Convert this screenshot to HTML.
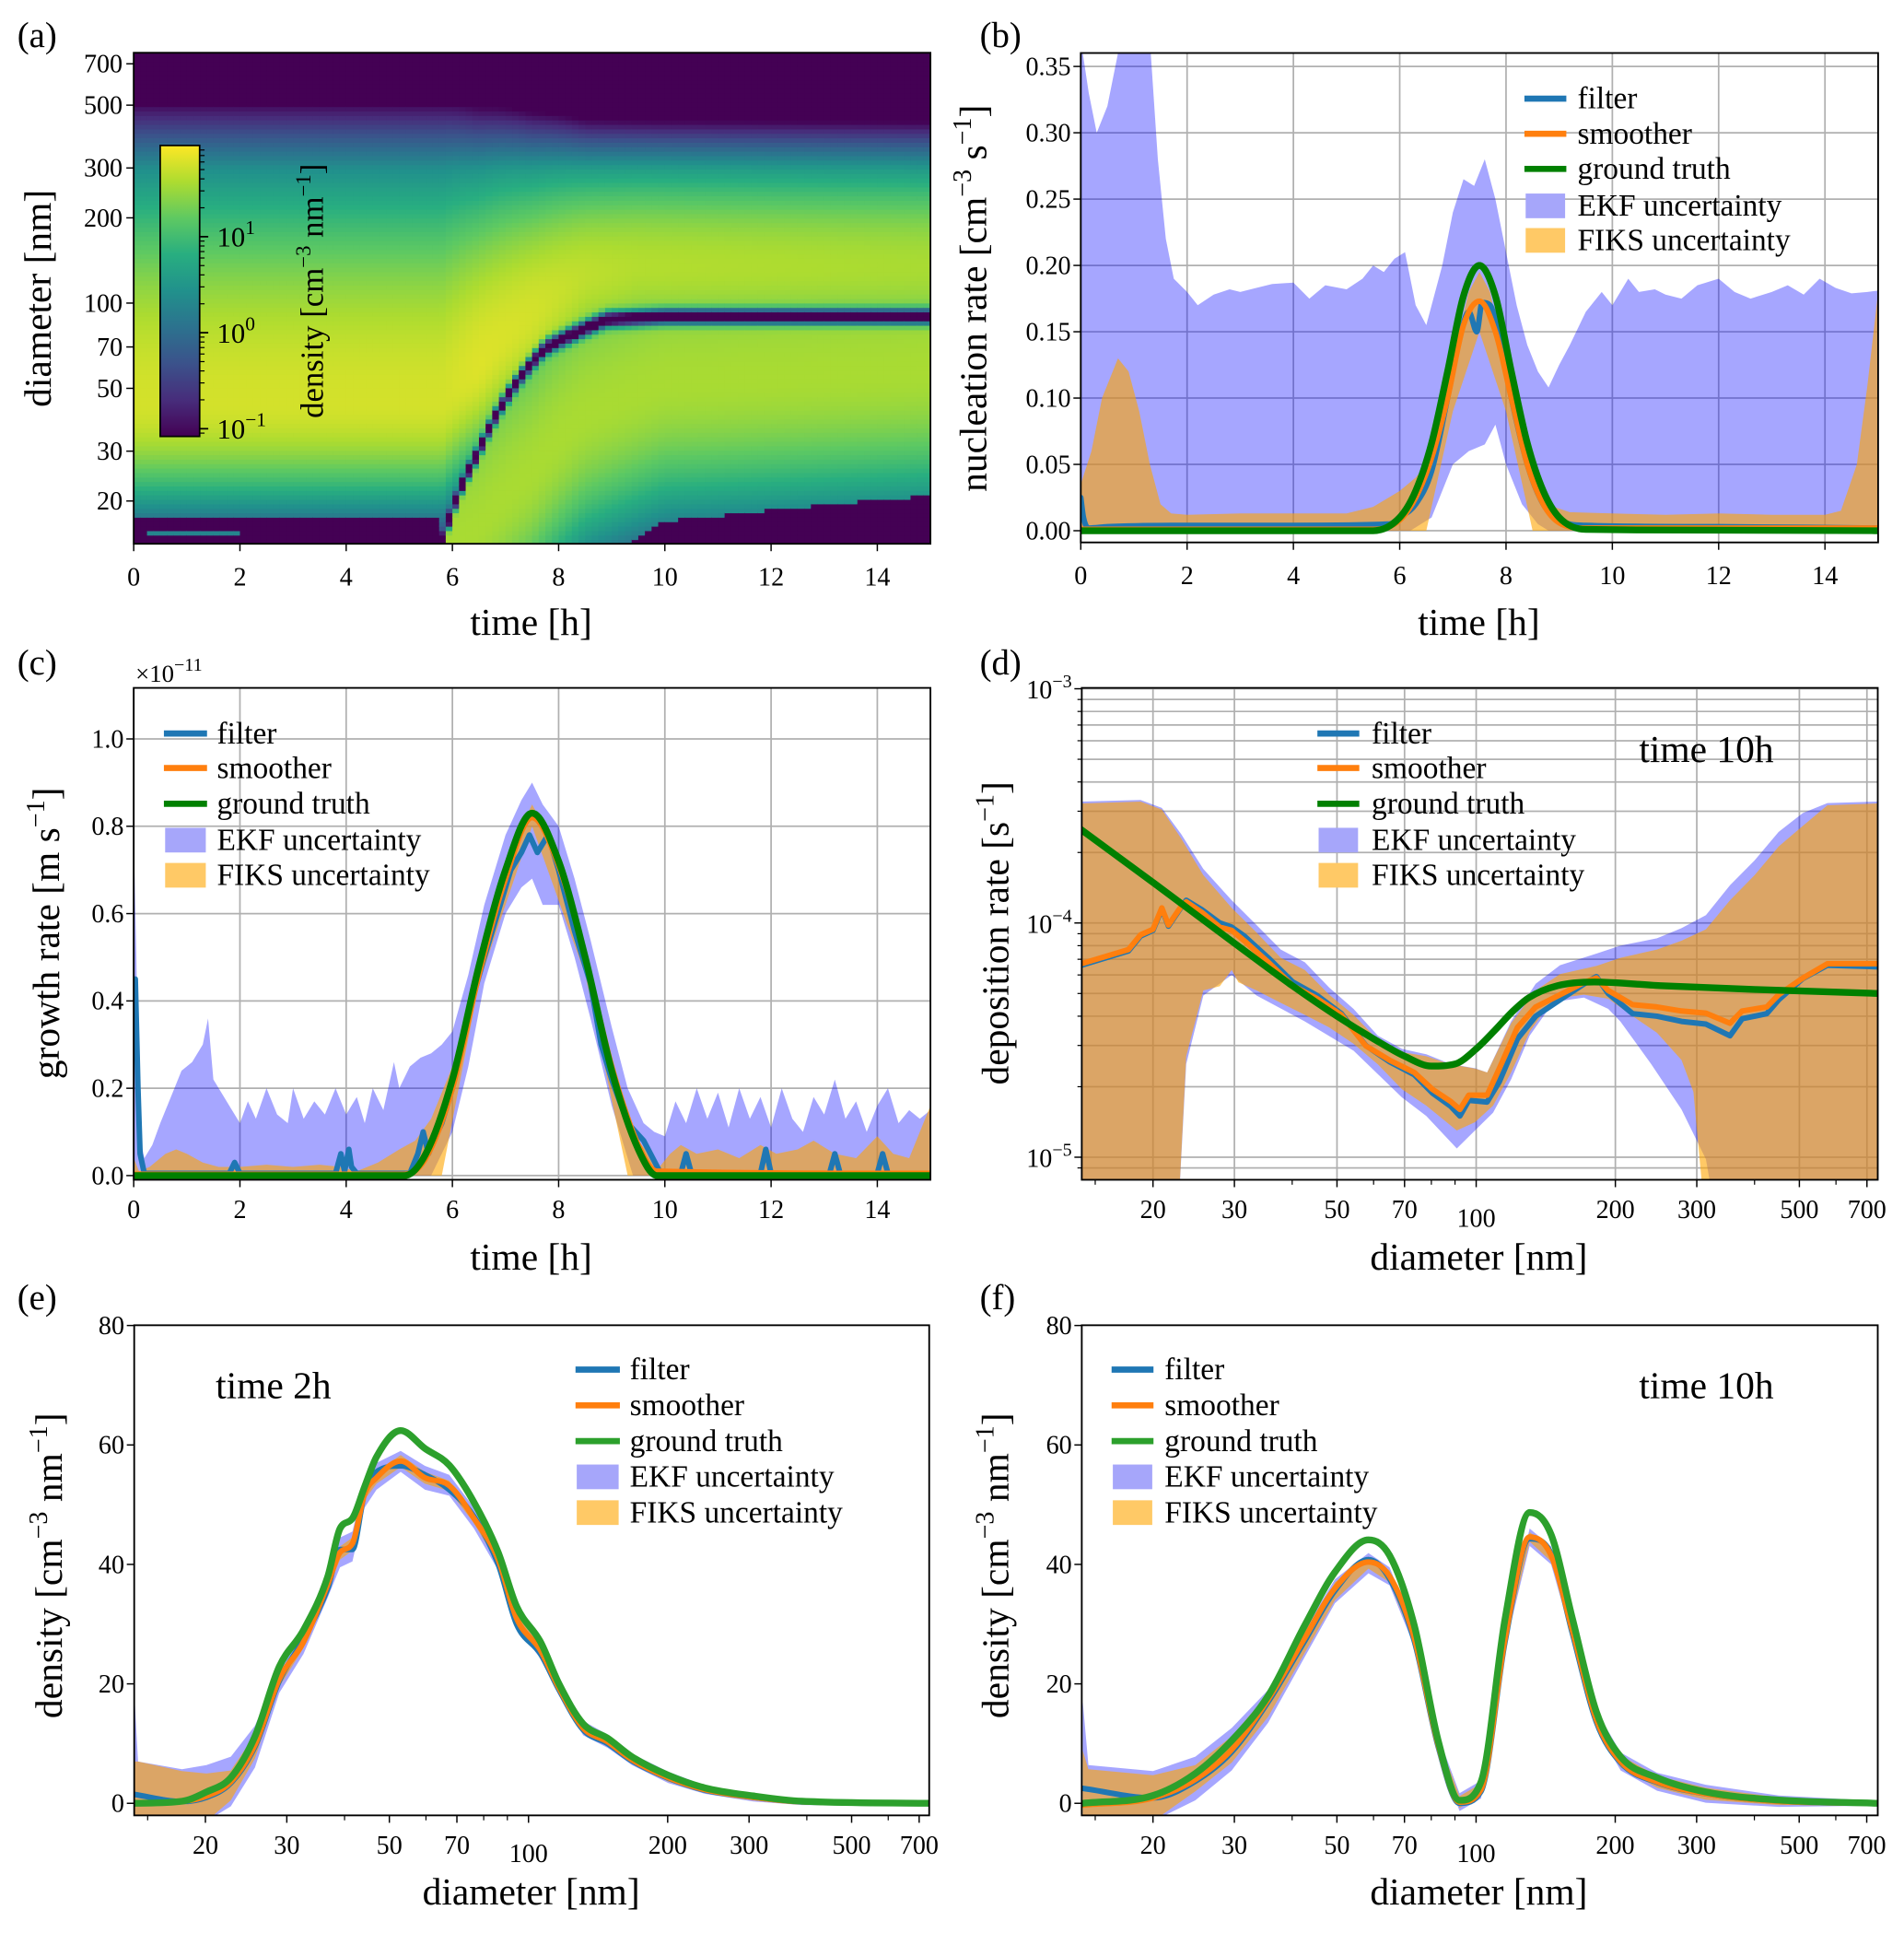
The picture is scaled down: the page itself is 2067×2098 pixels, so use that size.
<!DOCTYPE html>
<html><head><meta charset="utf-8"><title>Aerosol filter/smoother figure</title>
<style>
html,body{margin:0;padding:0;background:#fff;}
svg{display:block;}
text{font-family:"Liberation Serif",serif;fill:#000;}
</style></head>
<body>
<svg id="fig" xmlns="http://www.w3.org/2000/svg" width="2067" height="2098" viewBox="0 0 1545 1568" preserveAspectRatio="none">
<defs>
<clipPath id="clip-a"><rect x="108.5" y="42.8" width="646.5" height="398.3"/></clipPath>
<clipPath id="clip-b"><rect x="877" y="43" width="647" height="397"/></clipPath>
<clipPath id="clip-c"><rect x="108.5" y="558" width="646.5" height="399"/></clipPath>
<clipPath id="clip-d"><rect x="877.8" y="558" width="645.9" height="399"/></clipPath>
<clipPath id="clip-e"><rect x="108.9" y="1075" width="645.1" height="397.6"/></clipPath>
<clipPath id="clip-f"><rect x="877.8" y="1075" width="645.9" height="397.6"/></clipPath>
<linearGradient id="viridis" x1="0" y1="1" x2="0" y2="0">
<stop offset="0" stop-color="#440154"/><stop offset="0.125" stop-color="#472d7b"/><stop offset="0.25" stop-color="#3b528b"/><stop offset="0.375" stop-color="#2c728e"/><stop offset="0.5" stop-color="#21918c"/><stop offset="0.625" stop-color="#28ae80"/><stop offset="0.75" stop-color="#5ec962"/><stop offset="0.875" stop-color="#addc30"/><stop offset="1" stop-color="#fde725"/>
</linearGradient>
</defs>
<rect x="0" y="0" width="1545" height="1568" fill="#fff"/>
<g id="layer-a"></g>
<g id="layer-b"></g>
<g id="layer-c"></g>
<g id="layer-d"></g>
<g id="layer-e"></g>
<g id="layer-f"></g>

<text x="14" y="38" font-size="29">(a)</text>
<text x="795" y="38" font-size="29">(b)</text>
<text x="14" y="547" font-size="29">(c)</text>
<text x="795" y="547" font-size="29">(d)</text>
<text x="14" y="1062" font-size="29">(e)</text>
<text x="795" y="1062" font-size="29">(f)</text>

<text x="431" y="515" font-size="31" text-anchor="middle">time [h]</text>
<text x="1200" y="515" font-size="31" text-anchor="middle">time [h]</text>
<text x="431" y="1030" font-size="31" text-anchor="middle">time [h]</text>
<text x="1200" y="1030" font-size="31" text-anchor="middle">diameter [nm]</text>
<text x="431" y="1545" font-size="31" text-anchor="middle">diameter [nm]</text>
<text x="1200" y="1545" font-size="31" text-anchor="middle">diameter [nm]</text>

<text transform="translate(41,242) rotate(-90)" font-size="31" text-anchor="middle">diameter [nm]</text>
<text transform="translate(800,242) rotate(-90)" font-size="31" text-anchor="middle">nucleation rate [cm<tspan dy="-12" font-size="21">−3</tspan><tspan dy="12"> s</tspan><tspan dy="-12" font-size="21">−1</tspan><tspan dy="12">]</tspan></text>
<text transform="translate(48,757) rotate(-90)" font-size="31" text-anchor="middle">growth rate [m s<tspan dy="-12" font-size="21">−1</tspan><tspan dy="12">]</tspan></text>
<text transform="translate(818,757) rotate(-90)" font-size="31" text-anchor="middle">deposition rate [s<tspan dy="-12" font-size="21">−1</tspan><tspan dy="12">]</tspan></text>
<text transform="translate(50,1270) rotate(-90)" font-size="31" text-anchor="middle">density [cm<tspan dy="-12" font-size="21">−3</tspan><tspan dy="12"> nm</tspan><tspan dy="-12" font-size="21">−1</tspan><tspan dy="12">]</tspan></text>
<text transform="translate(818,1270) rotate(-90)" font-size="31" text-anchor="middle">density [cm<tspan dy="-12" font-size="21">−3</tspan><tspan dy="12"> nm</tspan><tspan dy="-12" font-size="21">−1</tspan><tspan dy="12">]</tspan></text>

<text x="110" y="553" font-size="20">×10<tspan dy="-9" font-size="15">−11</tspan></text>
<text x="1330" y="618" font-size="31">time 10h</text>
<text x="175" y="1134" font-size="31">time 2h</text>
<text x="1330" y="1134" font-size="31">time 10h</text>
</svg>

<script>
// ---------------- DATA ----------------
const gapTimes=[5.8,6.5,7.75,8.9,10,15];
const gapDiams=[14,30,70,88,90,90];
const oldTimes=[0,5.8,6.5,7.5,8.5,9.5,15];
const oldCenters=[45,45,60,90,125,135,135];
const oldSigUp=[0.33,0.33,0.28,0.22,0.17,0.16,0.16];
const oldAmp=[1.75,1.75,1.8,1.75,1.65,1.6,1.55];
const newTimes=[5.8,6.5,7.5,8.5,10,15];
const newCenters=[13,16,25,40,52,58];
const bottomTimes=[9.3,10,15];
const bottomDiams=[14,17,21];
const aDiamTicks=[20,30,50,70,100,200,300,500,700];
const cbarTicks=[1,0,-1];
const cbarTickLabels=["1","0","−1"];

const bEkfHiT=[0,0.15,0.3,0.5,0.7,0.9,1.1,1.3,1.45,1.6,1.75,2.0,2.2,2.5,2.8,3.0,3.3,3.6,4.0,4.3,4.6,5.0,5.3,5.5,5.7,5.9,6.1,6.3,6.5,6.8,7.0,7.2,7.4,7.6,7.8,8.0,8.2,8.4,8.6,8.8,9.0,9.2,9.5,9.8,10.0,10.3,10.5,10.8,11.0,11.3,11.6,12.0,12.3,12.6,13.0,13.3,13.6,13.9,14.2,14.5,14.8,15];
const bEkfHi=[0.37,0.33,0.30,0.32,0.36,0.37,0.37,0.37,0.28,0.22,0.19,0.18,0.17,0.178,0.182,0.18,0.183,0.186,0.187,0.175,0.185,0.182,0.19,0.2,0.195,0.205,0.21,0.17,0.155,0.2,0.24,0.265,0.26,0.28,0.25,0.21,0.17,0.14,0.12,0.108,0.125,0.14,0.165,0.18,0.17,0.19,0.18,0.182,0.178,0.175,0.185,0.19,0.18,0.175,0.18,0.185,0.178,0.19,0.183,0.179,0.18,0.181];
const bEkfLoT=[0,6.2,6.6,7.0,7.3,7.6,7.8,8.0,8.3,8.6,8.8,15];
const bEkfLo=[0,0,0.01,0.05,0.06,0.065,0.08,0.05,0.02,0.005,0,0];
const bFiksHiT=[0,0.2,0.4,0.7,0.9,1.1,1.3,1.5,1.7,2,3,4,5,5.5,6,6.3,6.6,7,7.3,7.5,7.7,8,8.3,8.6,8.9,9.2,10,11,12,13,14,14.3,14.6,14.8,15];
const bFiksHi=[0.035,0.06,0.10,0.13,0.12,0.09,0.05,0.02,0.013,0.012,0.013,0.013,0.013,0.018,0.03,0.04,0.055,0.13,0.18,0.195,0.18,0.12,0.06,0.03,0.018,0.014,0.013,0.012,0.013,0.012,0.012,0.015,0.05,0.11,0.18];
const bFiksLoT=[0,6.5,7,7.5,8,8.5,15];
const bFiksLo=[0,0,0.09,0.15,0.09,0,0];
const bTruthT=[0,5.5,6,6.3,6.6,6.9,7.2,7.5,7.8,8.1,8.4,8.7,9,9.5,15];
const bTruth=[0,0,0.01,0.03,0.066,0.12,0.177,0.2,0.177,0.12,0.066,0.03,0.01,0.001,0];
const bSmooth=[0.001,0.001,0.008,0.025,0.055,0.1,0.155,0.173,0.15,0.1,0.05,0.02,0.006,0.002,0.002];
const bFilterT=[0,0.05,0.15,0.5,2,4,5.8,6.0,6.3,6.6,6.9,7.1,7.3,7.45,7.55,7.7,7.9,8.1,8.4,8.7,9,9.5,12,15];
const bFilter=[0.025,0.01,0.002,0.003,0.004,0.004,0.005,0.01,0.02,0.045,0.1,0.14,0.165,0.15,0.172,0.17,0.14,0.1,0.05,0.02,0.008,0.004,0.003,0.002];
const bYTicks=[0,0.05,0.1,0.15,0.2,0.25,0.3,0.35];
const bYLabels=["0.00","0.05","0.10","0.15","0.20","0.25","0.30","0.35"];

const cEkfHiT=[0,0.05,0.1,0.2,0.35,0.5,0.7,0.9,1.1,1.3,1.4,1.5,1.65,1.8,2.0,2.15,2.3,2.5,2.7,2.9,3.0,3.2,3.4,3.6,3.8,4.0,4.2,4.35,4.5,4.7,4.9,5.0,5.2,5.4,5.6,5.8,6.0,6.3,6.6,7.0,7.3,7.5,7.7,8.0,8.3,8.6,9.0,9.3,9.6,9.8,10.0,10.2,10.4,10.6,10.8,11.0,11.2,11.4,11.6,11.8,12.0,12.2,12.4,12.6,12.8,13.0,13.2,13.4,13.6,13.8,14.0,14.2,14.4,14.6,14.8,15];
const cEkfHi=[0.78,0.5,0.1,0.04,0.07,0.12,0.18,0.24,0.26,0.3,0.36,0.22,0.19,0.16,0.12,0.17,0.13,0.2,0.14,0.12,0.2,0.13,0.17,0.14,0.2,0.14,0.18,0.12,0.2,0.15,0.26,0.2,0.25,0.27,0.28,0.3,0.33,0.46,0.62,0.78,0.86,0.9,0.85,0.8,0.68,0.54,0.34,0.2,0.12,0.1,0.09,0.17,0.12,0.2,0.13,0.19,0.11,0.2,0.13,0.18,0.11,0.2,0.13,0.1,0.18,0.14,0.22,0.13,0.17,0.1,0.16,0.2,0.12,0.15,0.13,0.15];
const cEkfLoT=[0,5.6,6.0,6.3,6.6,7.0,7.3,7.5,7.7,8.0,8.3,8.6,9.0,9.4,15];
const cEkfLo=[0,0,0.1,0.25,0.44,0.6,0.66,0.68,0.62,0.62,0.5,0.36,0.16,0,0];
const cFiksHiT=[0,0.1,0.3,0.6,0.8,1.0,1.3,1.6,2,2.5,3,3.5,3.9,4.2,4.6,5.0,5.3,5.6,6,6.5,7,7.5,8,8.5,9,9.5,9.9,10.1,10.3,10.6,11,11.4,11.8,12.1,12.5,12.8,13.2,13.6,14,14.3,14.6,15];
const cFiksHi=[0.04,0.01,0.02,0.05,0.06,0.05,0.03,0.02,0.02,0.025,0.02,0.025,0.02,0.01,0.03,0.06,0.08,0.13,0.25,0.5,0.72,0.85,0.74,0.52,0.26,0.08,0.02,0.05,0.07,0.05,0.06,0.04,0.07,0.05,0.06,0.08,0.05,0.04,0.09,0.05,0.04,0.16];
const cFiksLoT=[0,5.8,6.5,7.5,8.5,9.3,15];
const cFiksLo=[0,0,0.44,0.8,0.46,0,0];
const cTruthT=[0,5.1,5.5,6,6.5,7,7.5,8,8.5,9,9.5,9.85,15];
const cTruth=[0,0,0.05,0.22,0.48,0.7,0.83,0.72,0.5,0.24,0.06,0,0];
const cSmooth=[0.003,0.003,0.04,0.2,0.46,0.68,0.82,0.71,0.5,0.25,0.07,0.01,0.005];
const cFilterT=[0,0.03,0.08,0.12,0.2,1.8,1.9,2.0,3.8,3.9,3.97,4.05,4.1,4.2,5.2,5.35,5.45,5.55,5.65,5.8,6.0,6.3,6.6,6.9,7.1,7.3,7.45,7.6,7.8,8.0,8.3,8.6,8.8,9.0,9.3,9.6,9.9,10.3,10.4,10.5,11.8,11.9,12.0,13.1,13.2,13.3,14.0,14.1,14.2,15];
const cFilter=[0.3,0.45,0.2,0.05,0.005,0.005,0.03,0.005,0.005,0.05,0.01,0.06,0.02,0.005,0.005,0.05,0.1,0.05,0.08,0.12,0.2,0.37,0.5,0.62,0.7,0.74,0.78,0.74,0.78,0.7,0.56,0.44,0.3,0.22,0.12,0.08,0.01,0.005,0.05,0.005,0.005,0.06,0.005,0.005,0.05,0.005,0.005,0.05,0.005,0.005];
const cYTicks=[0,0.2,0.4,0.6,0.8,1.0];
const cYLabels=["0.0","0.2","0.4","0.6","0.8","1.0"];

const dTruthD=[14,20,30,40,50,60,70,80,90,100,110,120,130,150,180,250,400,740];
const dTruth=[2.5e-4,1.49e-4,8.2e-5,5.4e-5,4.0e-5,3.2e-5,2.7e-5,2.45e-5,2.5e-5,2.9e-5,3.5e-5,4.2e-5,4.8e-5,5.4e-5,5.6e-5,5.4e-5,5.2e-5,5.0e-5];
const dLineD=[14.0,17.7,18.8,20.0,20.9,21.6,22.9,23.6,25.5,27.9,29.6,31.5,35.5,40.1,45.3,51.1,57.7,65.1,73.5,80.4,88.1,92.2,96.4,105.6,112.2,122.8,134.5,151.8,171.3,182,193,218,246,278,314,354,376,425,451,509,575,739];
const dSmooth=[6.7e-5,7.7e-5,8.9e-5,9.4e-5,1.16e-4,9.8e-5,1.16e-4,1.23e-4,1.11e-4,9.6e-5,9.3e-5,8.4e-5,6.8e-5,5.4e-5,4.75e-5,4.05e-5,2.99e-5,2.59e-5,2.30e-5,1.95e-5,1.73e-5,1.6e-5,1.84e-5,1.84e-5,2.39e-5,3.58e-5,4.38e-5,4.94e-5,5.58e-5,5.82e-5,5.15e-5,4.48e-5,4.38e-5,4.21e-5,4.12e-5,3.73e-5,4.21e-5,4.38e-5,4.94e-5,5.82e-5,6.7e-5,6.7e-5];
const dFilter=[6.6e-5,7.6e-5,8.8e-5,9.3e-5,1.15e-4,9.7e-5,1.15e-4,1.25e-4,1.14e-4,1.0e-4,9.6e-5,8.8e-5,7.1e-5,5.6e-5,4.9e-5,4.1e-5,3.0e-5,2.55e-5,2.25e-5,1.88e-5,1.65e-5,1.5e-5,1.75e-5,1.72e-5,2.1e-5,3.2e-5,4.0e-5,4.7e-5,5.5e-5,5.9e-5,5.0e-5,4.1e-5,4.0e-5,3.8e-5,3.7e-5,3.3e-5,3.9e-5,4.1e-5,4.7e-5,5.8e-5,6.6e-5,6.5e-5];
const dUpperD=[14,18.8,20.9,23,25.7,29.6,33.5,37.8,42.6,48.1,54.3,61.3,69.1,78,88.1,99.4,105.6,119,134.5,151.8,182,205,246,278,314,354,400,451,509,575,739];
const dFiksHi=[3.24e-4,3.3e-4,3.05e-4,2.3e-4,1.6e-4,1.16e-4,9.1e-5,7.1e-5,6.3e-5,4.94e-5,4.05e-5,3.17e-5,2.81e-5,2.7e-5,2.49e-5,2.39e-5,2.3e-5,3.73e-5,5.15e-5,6.05e-5,6.56e-5,7.1e-5,7.7e-5,8.4e-5,9.4e-5,1.25e-4,1.6e-4,2.12e-4,2.6e-4,3.18e-4,3.24e-4];
const dEkfHi=[3.3e-4,3.35e-4,3.1e-4,2.4e-4,1.7e-4,1.25e-4,9.8e-5,7.7e-5,6.8e-5,5.3e-5,4.3e-5,3.3e-5,2.9e-5,2.75e-5,2.5e-5,2.4e-5,2.3e-5,3.8e-5,5.5e-5,6.6e-5,7.4e-5,8.0e-5,8.6e-5,9.5e-5,1.08e-4,1.45e-4,1.85e-4,2.45e-4,2.95e-4,3.25e-4,3.3e-4];
const dFiksLoD=[14,22.6,23.6,25.7,27.9,29.6,30.6,33.5,37.8,42.6,48.1,54.3,61.3,69.1,78,90.8,99.4,108.8,119,130.5,147,171,193,218,246,278,295,314,739];
const dFiksLo=[5e-6,5e-6,2.7e-5,5.15e-5,5.37e-5,6.3e-5,5.58e-5,5.15e-5,4.56e-5,4.05e-5,3.58e-5,3.05e-5,2.49e-5,1.95e-5,1.66e-5,1.3e-5,1.41e-5,1.66e-5,2.3e-5,3.43e-5,4.75e-5,4.94e-5,4.75e-5,4.0e-5,3.4e-5,2.6e-5,1.9e-5,5e-6,5e-6];
const dEkfLoD=[14,22.6,23.6,25.7,29.6,33.5,42.6,54.3,69.1,78,90.8,99.4,108.8,119,130.5,147,171,193,205,239,278,314,333,739];
const dEkfLo=[5e-6,5e-6,2.5e-5,4.9e-5,6.0e-5,4.9e-5,3.8e-5,2.85e-5,1.8e-5,1.5e-5,1.09e-5,1.3e-5,1.55e-5,2.15e-5,3.3e-5,4.6e-5,4.8e-5,4.3e-5,3.8e-5,2.5e-5,1.6e-5,9.8e-6,5e-6,5e-6];
const dYTicks=[-3,-4,-5];
const dYLabels=["−3","−4","−5"];
const diamTicks=[20,30,50,70,100,200,300,500,700];
const diamMinor=[15,40,60,80,90,400,600];

const eD=[14.0,17.8,20.1,22.7,25.6,28.9,32.6,36.8,39.1,41.6,44.2,46.9,52.9,59.7,67.4,76.2,86.0,94.2,106.2,116.4,131.3,148.3,167.4,200.6,240.4,306.4,390.6,738];
const eTruth=[0,0.35,1.9,4.3,11.2,22.9,29,38,46,47.7,53,58,62.4,59.4,56.6,50.4,42,33,27,20,13.3,10.9,7.8,4.7,2.6,1.24,0.35,0];
const eSmooth=[0,0.3,1.2,3.6,9.8,20.8,27,36.7,42,43.5,51.8,54.5,57.3,54.5,53.2,47.7,40.8,31,25.6,19.3,12.6,10.3,7.3,4.3,2.3,1.0,0.25,0];
const eFilter=[1.5,0.3,1.0,3.4,9.5,20.5,27.5,36,42.5,42.5,52,55.5,56.5,55,52.5,48,40,30,25,19,12.3,10,7.1,4.2,2.2,1.0,0.25,0];
const eHiD=[14,14.3,17.8,20.1,22.7,25.6,28.9,32.6,36.8,39.1,41.6,44.2,46.9,52.9,59.7,67.4,76.2,86.0,94.2,106.2,116.4,131.3,148.3,167.4,200.6,240.4,306.4,390.6,738];
const eEkfHi=[20,7,5.7,6.4,7.8,13,22.5,29,38.5,44.5,45.5,54,57,59,56.5,55,49.5,42.5,32.5,27,20.8,13.8,11.5,8.3,5.3,3,1.6,0.8,0.4];
const eEkfLo=[-3,-3,-3,-0.5,6,18.5,25,34.5,39.5,40.5,49.5,52.5,55.5,52.5,51.5,46,39,29.5,24.2,18,11.4,9.3,6.4,3.4,1.6,0.3,-0.3,-0.4];
const eFiksHi=[7,7,5.4,5.0,5.5,11.5,21.8,28,37.5,43,44.5,52.8,55.5,58.3,55.5,54,48.5,41.6,31.8,26.4,20.1,13.4,11.1,8.1,5.1,2.8,1.5,0.6,0.3];
const eFiksLo=[-3,-3,-3,0.5,7.5,19.5,26,35.8,40.8,42.3,50.8,53.5,56.3,53.5,52.3,46.9,40,30.2,24.8,18.6,11.9,9.6,6.6,3.6,1.8,0.5,-0.2,-0.3];

const fD=[14.1,20.0,24.7,29.6,35.5,42.6,49.5,58.5,65.0,73.5,82.8,92.1,102.5,115.6,130.6,145.3,161.5,182.1,205.5,246.4,314,451.6,739];
const fTruth=[0,1.3,5,10.5,18,29.8,38.7,44.1,41.5,29.8,10.5,0.5,3.6,31,48.7,45,31,15.3,7.8,4.3,1.9,0.55,0];
const fSmooth=[-0.3,0.9,4,9,17.4,27.7,36,40.4,38,27.7,9.8,0.2,2.3,27.7,44.6,41.5,29,14,7,3.6,1.6,0.35,0];
const fFilter=[2.5,0.9,3.7,8.6,17,27.2,35.6,40.8,37.6,27.2,9.5,0,2,27.2,44.3,41.8,28.5,13.6,6.8,3.5,1.6,0.35,0];
const fHiD=[14.1,14.5,20.0,24.7,29.6,35.5,42.6,49.5,58.5,65.0,73.5,82.8,92.1,102.5,115.6,130.6,145.3,161.5,182.1,205.5,246.4,314,451.6,739];
const fEkfHi=[17,6.4,5.4,7.8,12.6,19,29.2,37.5,41.9,39.5,29.2,11.3,1.7,3.8,29.2,46,43,30.5,15.5,8.5,5.1,3.1,1.3,0.4];
const fEkfLo=[-3,-3,0.5,5.5,13.5,24.5,33.5,38.5,36.5,26.2,8.3,-1.3,0.8,26.2,43.1,40,27.5,12.5,5.5,2.1,0.1,-0.6,-0.4];
const fFiksHi=[8.8,5.7,4.7,6.4,11.2,18.4,28.6,37,41.3,39,28.7,10.8,1.2,3.3,28.7,45.4,42.5,30,15,8,4.6,2.6,1.0,0.3];
const fFiksLo=[-3,-3,2,6.8,14.5,25.2,34,39.3,37,26.7,8.8,-0.8,1.3,26.7,43.8,40.5,28,13,6,2.6,0.6,-0.3,-0.3];
const densYTicks=[0,20,40,60,80];

const timeTicks=[0,2,4,6,8,10,12,14];
const legendLabels=["filter","smoother","ground truth","EKF uncertainty","FIKS uncertainty"];

// ---------------- RENDERING ----------------
const NS="http://www.w3.org/2000/svg";
const L10=Math.log10;
function mk(tag,parent){const e=document.createElementNS(NS,tag);parent.appendChild(e);return e;}
function interp(xs,ys,x){
  if(x<=xs[0])return ys[0];
  for(let i=1;i<xs.length;i++){if(x<=xs[i]){const f=(x-xs[i-1])/(xs[i]-xs[i-1]);return ys[i-1]+f*(ys[i]-ys[i-1]);}}
  return ys[ys.length-1];
}
function pts(xs,ys,fx,fy){return xs.map((x,i)=>fx(x).toFixed(2)+','+fy(ys[i]).toFixed(2));}
function linePath(xs,ys,fx,fy){return 'M'+pts(xs,ys,fx,fy).join('L');}
function smoothPath(xs,ys,fx,fy){
  const X=xs.map(fx),Y=ys.map(fy),n=X.length;
  const dl=[],m=[];
  for(let i=0;i<n-1;i++)dl.push((Y[i+1]-Y[i])/(X[i+1]-X[i]));
  m[0]=dl[0];m[n-1]=dl[n-2];
  for(let i=1;i<n-1;i++){m[i]=(dl[i-1]*dl[i]<=0)?0:(dl[i-1]+dl[i])/2;}
  for(let i=0;i<n-1;i++){
    if(dl[i]===0){m[i]=0;m[i+1]=0;continue;}
    const a=m[i]/dl[i],b=m[i+1]/dl[i],s=a*a+b*b;
    if(s>9){const t=3/Math.sqrt(s);m[i]=t*a*dl[i];m[i+1]=t*b*dl[i];}
  }
  let d='M'+X[0].toFixed(2)+','+Y[0].toFixed(2);
  for(let i=0;i<n-1;i++){
    const h=(X[i+1]-X[i])/3;
    d+='C'+(X[i]+h).toFixed(2)+','+(Y[i]+m[i]*h).toFixed(2)+' '+(X[i+1]-h).toFixed(2)+','+(Y[i+1]-m[i+1]*h).toFixed(2)+' '+X[i+1].toFixed(2)+','+Y[i+1].toFixed(2);
  }
  return d;
}
function bandPath(xh,yh,xl,yl,fx,fy){
  const a=pts(xh,yh,fx,fy);const b=pts(xl,yl,fx,fy).reverse();
  return 'M'+a.join('L')+'L'+b.join('L')+'Z';
}
const C={filter:'#1f77b4',smooth:'#ff7f0e',truth:'#008000',truth2:'#2ca02c',ekf:'rgba(0,0,255,0.35)',fiks:'rgba(255,165,0,0.6)'};

function addLine(g,d,color,w,name){
  const p=mk('path',g);p.setAttribute('d',d);p.setAttribute('fill','none');p.setAttribute('stroke',color);
  p.setAttribute('stroke-width',w);p.setAttribute('stroke-linejoin','round');p.setAttribute('stroke-linecap','round');
  
  
  return p;
}
function addBand(g,d,color,name){
  const p=mk('path',g);p.setAttribute('d',d);p.setAttribute('fill',color);p.setAttribute('stroke','none');
  
  
  return p;
}
function frame(g,x0,y0,x1,y1,name){
  const r=mk('rect',g);r.setAttribute('x',x0);r.setAttribute('y',y0);r.setAttribute('width',x1-x0);r.setAttribute('height',y1-y0);
  r.setAttribute('fill','none');r.setAttribute('stroke','#000');r.setAttribute('stroke-width','1.4');
  
  
}
function tick(g,x1,y1,x2,y2,w,name){
  const l=mk('line',g);l.setAttribute('x1',x1);l.setAttribute('y1',y1);l.setAttribute('x2',x2);l.setAttribute('y2',y2);
  l.setAttribute('stroke','#000');l.setAttribute('stroke-width',w||1.1);
  
  
}
function grid(g,x1,y1,x2,y2,name){
  const l=mk('line',g);l.setAttribute('x1',x1);l.setAttribute('y1',y1);l.setAttribute('x2',x2);l.setAttribute('y2',y2);
  l.setAttribute('stroke','#b0b0b0');l.setAttribute('stroke-width','1.3');
  
  
}
function label(g,x,y,txt,anchor,size,name){
  const t=mk('text',g);t.setAttribute('x',x);t.setAttribute('y',y);t.setAttribute('text-anchor',anchor||'middle');
  t.setAttribute('font-size',size||21);t.textContent=txt;
  
  
  return t;
}
function powLabel(g,x,y,exp,name){
  const t=mk('text',g);t.setAttribute('x',x);t.setAttribute('y',y);t.setAttribute('text-anchor','end');t.setAttribute('font-size',21);
  
  
  t.appendChild(document.createTextNode('10'));
  const s=mk('tspan',t);s.setAttribute('dy','-9');s.setAttribute('font-size','15');s.textContent=exp;
  return t;
}
function legend(g,lx0,lx1,tx,ys,green){
  const cols=[C.filter,C.smooth,green];
  legendLabels.forEach((lab,i)=>{
    const y=ys[i];
    if(i<3){
      const l=mk('line',g);l.setAttribute('x1',lx0);l.setAttribute('x2',lx1);l.setAttribute('y1',y);l.setAttribute('y2',y);
      l.setAttribute('stroke',cols[i]);l.setAttribute('stroke-width','5');
      
      
    }else{
      const r=mk('rect',g);r.setAttribute('x',lx0+1);r.setAttribute('y',y-10);r.setAttribute('width',lx1-lx0-2);r.setAttribute('height',20);
      r.setAttribute('fill',i===3?'#a6a6fa':'#ffc966');
      
      
    }
    label(g,tx,y+8,lab,'start',25,'legend-text-'+lab.replace(/ /g,'-'));
  });
}

// ===== Panel (a) heatmap =====
(function(){
  const g=document.getElementById('layer-a');
  const x0=108.5,x1=755,yb=441.1,yt=42.8,lmin=1.150,lmax=2.884;
  const sx=t=>x0+t*(x1-x0)/15;
  const sy=l=>yb-(l-lmin)*(yb-yt)/(lmax-lmin);
  const VMIN=-1.08,VMAX=1.95;
  const vir=[[68,1,84],[71,45,123],[59,82,139],[44,114,142],[33,145,140],[40,174,128],[94,201,98],[173,220,48],[253,231,37]];
  function col(v){let f=(v-VMIN)/(VMAX-VMIN);f=Math.max(0,Math.min(1,f))*8;const i=Math.min(7,Math.floor(f));const r=f-i;
    const a=vir[i],b=vir[i+1];return 'rgb('+[0,1,2].map(k=>Math.round(a[k]+(b[k]-a[k])*r)).join(',')+')';}
  function heat(t,x){
    let xg=(t<5.8)?(L10(14)-(5.8-t)*0.6):L10(interp(gapTimes,gapDiams,t));
    let v;
    if(x>xg){
      const co=L10(interp(oldTimes,oldCenters,t));
      const su=interp(oldTimes,oldSigUp,t);
      const s=x>co?su:0.15;
      v=interp(oldTimes,oldAmp,t)-0.434*(x-co)*(x-co)/(2*s*s);
    }else{
      const cn=L10(interp(newTimes,newCenters,t));
      const s=x<cn?0.2:0.3;
      v=1.55-0.434*(x-cn)*(x-cn)/(2*s*s);
    }
    if(t>5.5)v-=3.2*Math.exp(-Math.pow((x-xg)/0.025,2));
    if(t<5.8&&x<L10(17.5)){v=-1.1;if(t>0.2&&t<2&&x>L10(15)&&x<L10(16))v=0.3;}
    if(t>bottomTimes[0]&&x<L10(interp(bottomTimes,bottomDiams,t)))v=-1.1;
    if(x>L10(300))v-=2.5*(x-L10(300));
    if(x>L10(490))v=-1.1;
    return v;
  }
  const NT=120,NY=110;
  const cw=(x1-x0)/NT,rh=(yb-yt)/NY;
  const hm=mk('g',g);hm.setAttribute('clip-path','url(#clip-a)');
  
  
  for(let i=0;i<NT;i++){
    const t=(i+0.5)*15/NT;
    for(let j=0;j<NY;j++){
      const x=lmin+(j+0.5)*(lmax-lmin)/NY;
      const r=mk('rect',hm);
      r.setAttribute('x',(sx(i*15/NT)).toFixed(2));r.setAttribute('y',(sy(lmin+(j+1)*(lmax-lmin)/NY)).toFixed(2));
      r.setAttribute('width',(cw+0.6).toFixed(2));r.setAttribute('height',(rh+0.6).toFixed(2));
      r.setAttribute('fill',col(heat(t,x)));
      
      
    }
  }
  frame(g,x0,yt,x1,yb,'axes-frame-a');
  timeTicks.forEach(t=>{tick(g,sx(t),yb,sx(t),yb+6,1.1,'x-tick-a');label(g,sx(t),yb+34,String(t),'middle',21,'x-tick-label-a');});
  aDiamTicks.forEach(d=>{tick(g,x0,sy(L10(d)),x0-6,sy(L10(d)),1.1,'y-tick-a');label(g,x0-9,sy(L10(d))+7,String(d),'end',21,'y-tick-label-a');});
  const cb=mk('rect',g);cb.setAttribute('x',130);cb.setAttribute('y',118);cb.setAttribute('width',32);cb.setAttribute('height',236);
  cb.setAttribute('fill','url(#viridis)');cb.setAttribute('stroke','#000');cb.setAttribute('stroke-width','1.3');
  
  
  const cy=v=>354-(v-VMIN)/(VMAX-VMIN)*236;
  for(let dec=-2;dec<=1;dec++){for(let k=1;k<=9;k++){const v=dec+L10(k);if(v<VMIN||v>VMAX)continue;
    tick(g,162,cy(v),k===1?169:166,cy(v),k===1?1.3:0.9,'colorbar-tick');}}
  cbarTicks.forEach((v,i)=>{
    const t=mk('text',g);t.setAttribute('x',176);t.setAttribute('y',cy(v)+8);t.setAttribute('font-size',23);
    
    
    t.appendChild(document.createTextNode('10'));
    const s=mk('tspan',t);s.setAttribute('dy','-10');s.setAttribute('font-size','16');s.textContent=cbarTickLabels[i];
  });
  const ct=mk('text',g);ct.setAttribute('transform','translate(262,236) rotate(-90)');ct.setAttribute('text-anchor','middle');ct.setAttribute('font-size',26);
  
  
  ct.innerHTML='density [cm<tspan dy="-10" font-size="17">−3</tspan><tspan dy="10"> nm</tspan><tspan dy="-10" font-size="17">−1</tspan><tspan dy="10">]</tspan>';
})();

// ===== Panel (b) =====
(function(){
  const g=document.getElementById('layer-b');
  const x0=877,x1=1524,yt=43,yb=440;
  const sx=t=>x0+t*(x1-x0)/15;
  const sy=v=>430.5-v*1076;
  timeTicks.forEach(t=>grid(g,sx(t),yt,sx(t),yb,'grid-x-b'));
  bYTicks.forEach(v=>grid(g,x0,sy(v),x1,sy(v),'grid-y-b'));
  const d=mk('g',g);d.setAttribute('clip-path','url(#clip-b)');
  
  
  addBand(d,bandPath(bEkfHiT,bEkfHi,bEkfLoT,bEkfLo,sx,sy),C.ekf,'ekf-uncertainty-band-b');
  addBand(d,bandPath(bFiksHiT,bFiksHi,bFiksLoT,bFiksLo,sx,sy),C.fiks,'fiks-uncertainty-band-b');
  addLine(d,smoothPath(bFilterT,bFilter,sx,sy),C.filter,4.5,'filter-line-b');
  addLine(d,smoothPath(bTruthT,bSmooth,sx,sy),C.smooth,4.5,'smoother-line-b');
  addLine(d,smoothPath(bTruthT,bTruth,sx,sy),C.truth,5.5,'ground-truth-line-b');
  frame(g,x0,yt,x1,yb,'axes-frame-b');
  timeTicks.forEach(t=>{tick(g,sx(t),yb,sx(t),yb+6,1.1,'x-tick-b');label(g,sx(t),yb+34,String(t),'middle',21,'x-tick-label-b');});
  bYTicks.forEach((v,i)=>{tick(g,x0,sy(v),x0-6,sy(v),1.1,'y-tick-b');label(g,x0-8,sy(v)+7,bYLabels[i],'end',21,'y-tick-label-b');});
  legend(g,1237,1271,1280,[80,108.5,137,167,195],C.truth);
})();

// ===== Panel (c) =====
(function(){
  const g=document.getElementById('layer-c');
  const x0=108.5,x1=755,yt=558,yb=957;
  const sx=t=>x0+t*(x1-x0)/15;
  const sy=v=>953.6-v*354.2;
  timeTicks.forEach(t=>grid(g,sx(t),yt,sx(t),yb,'grid-x-c'));
  cYTicks.forEach(v=>grid(g,x0,sy(v),x1,sy(v),'grid-y-c'));
  const d=mk('g',g);d.setAttribute('clip-path','url(#clip-c)');
  
  
  addBand(d,bandPath(cEkfHiT,cEkfHi,cEkfLoT,cEkfLo,sx,sy),C.ekf,'ekf-uncertainty-band-c');
  addBand(d,bandPath(cFiksHiT,cFiksHi,cFiksLoT,cFiksLo,sx,sy),C.fiks,'fiks-uncertainty-band-c');
  addLine(d,linePath(cFilterT,cFilter,sx,sy),C.filter,4.5,'filter-line-c');
  addLine(d,smoothPath(cTruthT,cSmooth,sx,sy),C.smooth,4.5,'smoother-line-c');
  addLine(d,smoothPath(cTruthT,cTruth,sx,sy),C.truth,5.5,'ground-truth-line-c');
  frame(g,x0,yt,x1,yb,'axes-frame-c');
  timeTicks.forEach(t=>{tick(g,sx(t),yb,sx(t),yb+6,1.1,'x-tick-c');label(g,sx(t),yb+31,String(t),'middle',21,'x-tick-label-c');});
  cYTicks.forEach((v,i)=>{tick(g,x0,sy(v),x0-6,sy(v),1.1,'y-tick-c');label(g,x0-8,sy(v)+7,cYLabels[i],'end',21,'y-tick-label-c');});
  legend(g,133,168,176,[595,623,652,681.5,710],C.truth);
})();

function diamAxis(g,sx,yb,suffix){
  diamMinor.forEach(v=>tick(g,sx(v),yb,sx(v),yb+4,0.9,'x-minor-tick-'+suffix));
  diamTicks.forEach(v=>{tick(g,sx(v),yb,sx(v),yb+6,1.1,'x-tick-'+suffix);
    label(g,sx(v),yb+(v===100?38:31),String(v),'middle',21,'x-tick-label-'+suffix);});
}

// ===== Panel (d) =====
(function(){
  const g=document.getElementById('layer-d');
  const x0=877.8,x1=1523.7,yt=558,yb=957;
  const sx=v=>x0+(L10(v)-1.147)*375.2;
  const sy=v=>748.7-(L10(v)+4)*190;
  for(let dec=-6;dec<=-3;dec++)for(let k=1;k<=9;k++){const v=k*Math.pow(10,dec);const y=sy(v);if(y<yt-0.5||y>yb)continue;grid(g,x0,y,x1,y,'grid-y-d');}
  diamTicks.forEach(v=>grid(g,sx(v),yt,sx(v),yb,'grid-x-d'));
  const d=mk('g',g);d.setAttribute('clip-path','url(#clip-d)');
  
  
  addBand(d,bandPath(dUpperD,dEkfHi,dEkfLoD,dEkfLo,sx,sy),C.ekf,'ekf-uncertainty-band-d');
  addBand(d,bandPath(dUpperD,dFiksHi,dFiksLoD,dFiksLo,sx,sy),C.fiks,'fiks-uncertainty-band-d');
  addLine(d,linePath(dLineD,dFilter,sx,sy),C.filter,4.5,'filter-line-d');
  addLine(d,linePath(dLineD,dSmooth,sx,sy),C.smooth,4.5,'smoother-line-d');
  addLine(d,smoothPath(dTruthD,dTruth,sx,sy),C.truth,5.5,'ground-truth-line-d');
  frame(g,x0,yt,x1,yb,'axes-frame-d');
  diamAxis(g,sx,yb,'d');
  for(let dec=-6;dec<=-3;dec++)for(let k=1;k<=9;k++){const v=k*Math.pow(10,dec);const y=sy(v);if(y<yt-0.5||y>yb)continue;
    tick(g,x0,y,x0-(k===1?6:3.5),y,k===1?1.1:0.9,k===1?'y-tick-d':'y-minor-tick-d');}
  dYTicks.forEach((e,i)=>powLabel(g,x0-8,sy(Math.pow(10,e))+8,dYLabels[i],'y-tick-label-d'));
  legend(g,1069,1103,1113,[595,623,652,681.5,710],C.truth);
})();

// ===== Panels (e) and (f) =====
function densPanel(id,x0,x1,D,tr,sm,fl,HD,eh,el,fh,flo,lx0,lx1,tx){
  const g=document.getElementById('layer-'+id);
  const yt=1075,yb=1472.6;
  const sx=v=>x0+(L10(v)-1.147)*375.1;
  const sy=v=>1462.8-v*4.845;
  const d=mk('g',g);d.setAttribute('clip-path','url(#clip-'+id+')');
  
  
  addBand(d,bandPath(HD,eh,D,el,sx,sy),C.ekf,'ekf-uncertainty-band-'+id);
  addBand(d,bandPath(HD,fh,D,flo,sx,sy),C.fiks,'fiks-uncertainty-band-'+id);
  addLine(d,smoothPath(D,fl,sx,sy),C.filter,4.5,'filter-line-'+id);
  addLine(d,smoothPath(D,sm,sx,sy),C.smooth,4.5,'smoother-line-'+id);
  addLine(d,smoothPath(D,tr,sx,sy),C.truth2,5.5,'ground-truth-line-'+id);
  frame(g,x0,yt,x1,yb,'axes-frame-'+id);
  diamAxis(g,sx,yb,id);
  densYTicks.forEach(v=>{tick(g,x0,sy(v),x0-6,sy(v),1.1,'y-tick-'+id);label(g,x0-8,sy(v)+7,String(v),'end',21,'y-tick-label-'+id);});
  legend(g,lx0,lx1,tx,[1111,1140,1169,1198,1227],C.truth2);
}
densPanel('e',108.9,754,eD,eTruth,eSmooth,eFilter,eHiD,eEkfHi,eEkfLo,eFiksHi,eFiksLo,467,503,511);
densPanel('f',877.8,1523.7,fD,fTruth,fSmooth,fFilter,fHiD,fEkfHi,fEkfLo,fFiksHi,fFiksLo,902,936,945);
</script>
</body></html>
